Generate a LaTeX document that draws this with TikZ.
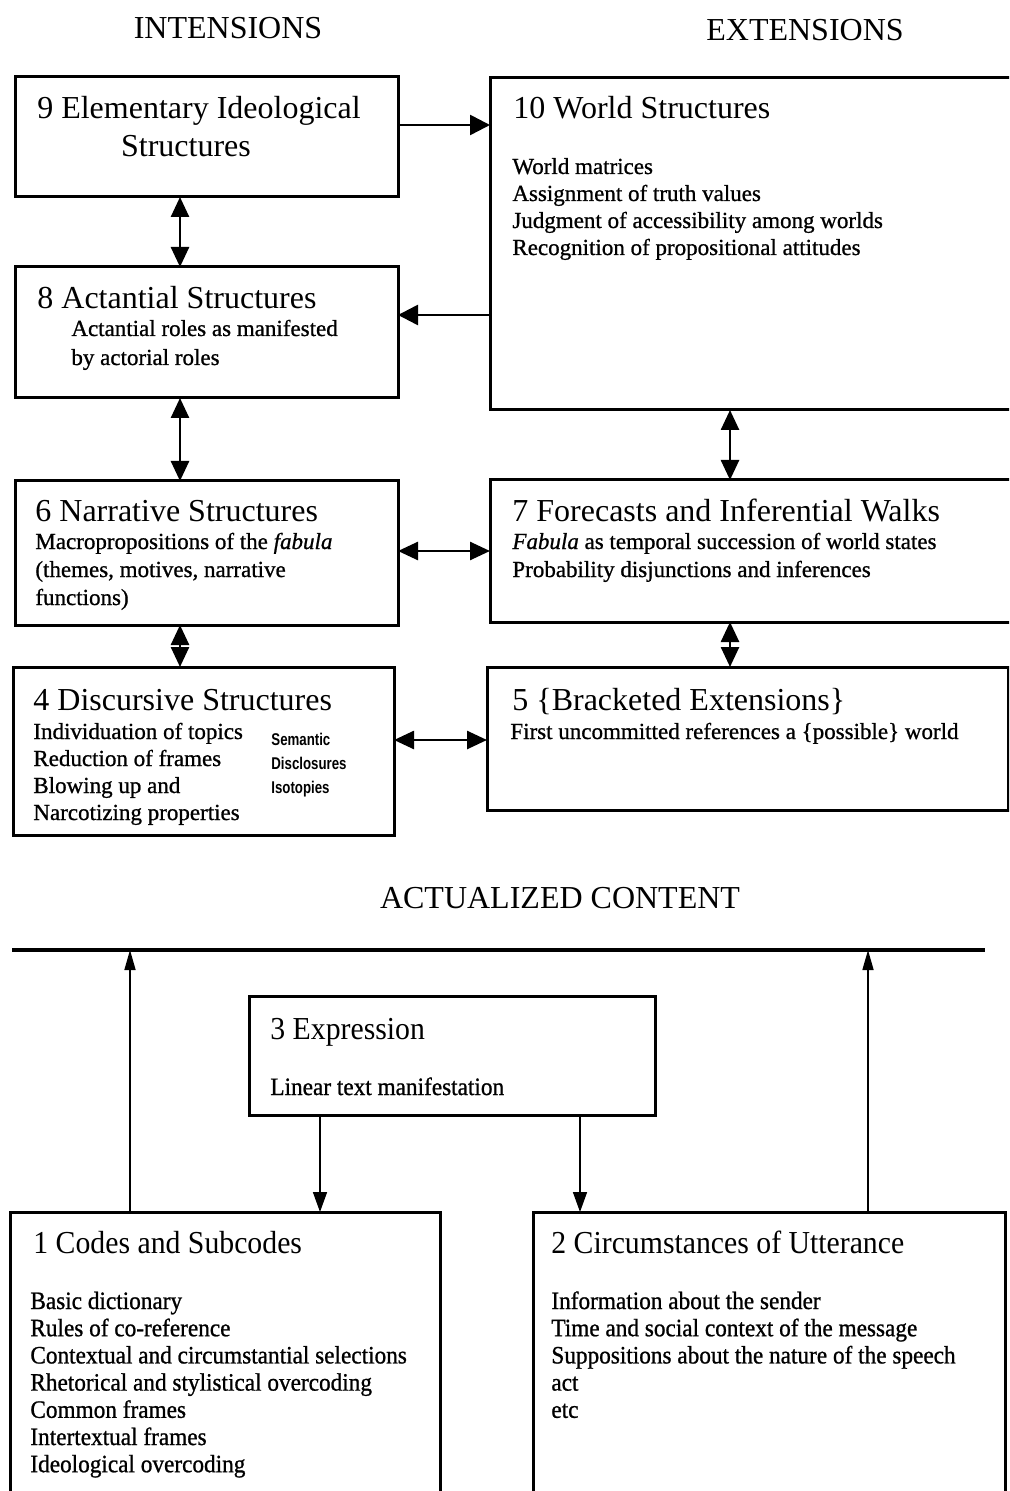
\documentclass[tikz,border=0pt]{standalone}
\usepackage{fontspec}
\setmainfont{Liberation Serif}
\newfontfamily\heavyserif{Liberation Serif}[FakeBold=0.9]
\newfontfamily\condserif{Liberation Serif}[FakeStretch=0.93]
\newfontfamily\condheavy{Liberation Serif}[FakeStretch=0.93, FakeBold=0.9]
\newfontfamily\narrowsans{Liberation Sans}[FakeStretch=0.78]
\usetikzlibrary{arrows.meta}

\tikzset{
  box/.style={draw, line width=1.5pt, inner sep=0pt, outer sep=0pt, anchor=north west},
  heading/.style={font=\fontsize{16}{19}\selectfont, anchor=base, inner sep=0pt},
  title/.style={font=\fontsize{16}{19}\selectfont, anchor=base west, inner sep=0pt},
  item/.style={font=\heavyserif\fontsize{11.5}{13.5}\selectfont, anchor=base west, inner sep=0pt},
  ctitle/.style={font=\condserif\fontsize{16}{19}\selectfont, anchor=base west, inner sep=0pt},
  citem/.style={font=\condheavy\fontsize{12.5}{14}\selectfont, anchor=base west, inner sep=0pt},
  note/.style={font=\narrowsans\bfseries\fontsize{8.5}{10}\selectfont, anchor=base west, inner sep=0pt},
  link/.style={line width=1.3pt, {Triangle[length=10pt,width=9pt]}-{Triangle[length=10pt,width=9pt]}},
  onto/.style={line width=1.3pt, -{Triangle[length=10pt,width=10pt]}},
  rise/.style={line width=0.8pt, -{Triangle[length=10pt,width=5.5pt]}},
  drop/.style={line width=0.8pt, -{Triangle[length=10pt,width=7pt]}},
}

\begin{document}
\begin{tikzpicture}[x=0.5pt,y=-0.5pt]
\useasboundingbox (0,0) rectangle (1009,1491);
\clip (0,0) rectangle (1009,1491);

% column headings
\node[heading] (hInt) at (228,39) {INTENSIONS};
\node[heading] (hExt) at (805,41) {EXTENSIONS};
\node[heading] (hAct) at (560,908) {ACTUALIZED CONTENT};

% boxes
\node[box, minimum width=191.5pt, minimum height=60pt]   (b9)  at (15,77)   {};
\node[box, minimum width=280pt,   minimum height=166pt]  (b10) at (490,78)  {};
\node[box, minimum width=191.5pt, minimum height=65.5pt] (b8)  at (15,267)  {};
\node[box, minimum width=191.5pt, minimum height=72pt]   (b6)  at (15,481)  {};
\node[box, minimum width=280pt,   minimum height=71pt]   (b7)  at (490,480) {};
\node[box, minimum width=190.5pt, minimum height=84pt]   (b4)  at (13,667)  {};
\node[box, minimum width=260.5pt, minimum height=71.5pt] (b5)  at (487,667) {};
\node[box, minimum width=203pt,   minimum height=59.5pt] (b3)  at (249,996) {};
\node[box, minimum width=215pt,   minimum height=160pt]  (b1)  at (10,1212) {};
\node[box, minimum width=236pt,   minimum height=160pt]  (b2)  at (533,1212) {};

% 9 Elementary Ideological Structures
\node[heading] (t9a) at (199,119) {9 Elementary Ideological};
\node[heading] (t9b) at (186,157) {Structures};

% 10 World Structures
\node[title] (t10) at (513,119) {10 World Structures};
\foreach \t [count=\i] in {World matrices, Assignment of truth values,
    Judgment of accessibility among worlds, Recognition of propositional attitudes}
  \node[item] (t10-\i) at (512,174+27*\i-27) {\t};

% 8 Actantial Structures
\node[title] (t8) at (37,309) {8 Actantial Structures};
\node[item] (t8-1) at (71,336) {Actantial roles as manifested};
\node[item] (t8-2) at (71,365) {by actorial roles};

% 6 Narrative Structures
\node[title] (t6) at (35,522) {6 Narrative Structures};
\node[item] (t6-1) at (35,549) {Macropropositions of the \textit{fabula}};
\node[item] (t6-2) at (35,577) {(themes, motives, narrative};
\node[item] (t6-3) at (35,605) {functions)};

% 7 Forecasts and Inferential Walks
\node[title] (t7) at (512,522) {7 Forecasts and Inferential Walks};
\node[item] (t7-1) at (512,549) {\textit{Fabula} as temporal succession of world states};
\node[item] (t7-2) at (512,577) {Probability disjunctions and inferences};

% 4 Discursive Structures
\node[title] (t4) at (33,710) {4 Discursive Structures};
\foreach \t [count=\i] in {Individuation of topics, Reduction of frames,
    Blowing up and, Narcotizing properties}
  \node[item] (t4-\i) at (33,739+27*\i-27) {\t};
\foreach \t [count=\i] in {Semantic, Disclosures, Isotopies}
  \node[note] (n4-\i) at (271,745+24*\i-24) {\t};

% 5 Bracketed Extensions
\node[title] (t5) at (512,710) {5 \{Bracketed Extensions\}};
\node[item] (t5-1) at (510,739) {First uncommitted references a \{possible\} world};

% 3 Expression
\node[ctitle] (t3) at (270,1039) {3 Expression};
\node[citem] (t3-1) at (270,1095) {Linear text manifestation};

% 1 Codes and Subcodes
\node[ctitle] (t1) at (33,1253) {1 Codes and Subcodes};
\foreach \t [count=\i] in {Basic dictionary, Rules of co-reference,
    Contextual and circumstantial selections, Rhetorical and stylistical overcoding,
    Common frames, Intertextual frames, Ideological overcoding}
  \node[citem] (t1-\i) at (30,1309+27.2*\i-27.2) {\t};

% 2 Circumstances of Utterance
\node[ctitle] (t2) at (551,1253) {2 Circumstances of Utterance};
\foreach \t [count=\i] in {Information about the sender, Time and social context of the message,
    Suppositions about the nature of the speech, act, etc}
  \node[citem] (t2-\i) at (551,1309+27.2*\i-27.2) {\t};

% connector guides
\coordinate (xL) at (180,0);
\coordinate (xR) at (730,0);
\coordinate (y1) at (0,125);
\coordinate (y2) at (0,315);
\coordinate (y3) at (0,551);
\coordinate (y4) at (0,740);

% upper connectors
\draw[onto] (b9.east |- y1) -- (b10.west |- y1);
\draw[onto] (b10.west |- y2) -- (b8.east |- y2);
\draw[link] (b9.south -| xL) -- (b8.north -| xL);
\draw[link] (b8.south -| xL) -- (b6.north -| xL);
\draw[link] (b6.south -| xL) -- (b4.north -| xL);
\draw[link] (b10.south -| xR) -- (b7.north -| xR);
\draw[link] (b7.south -| xR) -- (b5.north -| xR);
\draw[link] (b6.east |- y3) -- (b7.west |- y3);
\draw[link] (b4.east |- y4) -- (b5.west |- y4);

% actualized content line and lower connectors
\coordinate (lineL) at (12,950);
\coordinate (lineR) at (985,950);
\draw[line width=1.6pt] (lineL) -- (lineR);
\coordinate (u1) at (130,0);
\coordinate (u2) at (868,0);
\coordinate (d1) at (320,0);
\coordinate (d2) at (580,0);
\draw[rise] (b1.north -| u1) -- (u1 |- lineL);
\draw[rise] (b2.north -| u2) -- (u2 |- lineL);
\draw[drop] (b3.south -| d1) -- (b1.north -| d1);
\draw[drop] (b3.south -| d2) -- (b2.north -| d2);
\end{tikzpicture}
\end{document}
